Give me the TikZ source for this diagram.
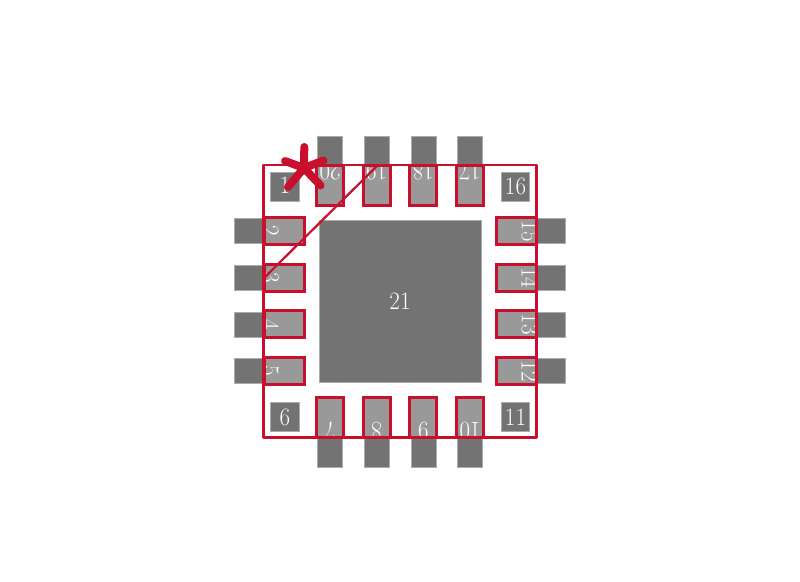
\documentclass[tikz,border=0pt]{standalone}
\definecolor{padred}{RGB}{200,16,46}
\definecolor{darkpad}{RGB}{115,115,115}
\definecolor{lightpad}{RGB}{153,153,153}
\newcommand{\digits}[1]{\scalebox{.92}[1]{\fontsize{25}{25}\selectfont #1}}
\tikzset{
  x=1pt,y=-1pt,
  lightfill/.style={fill=lightpad,draw=none},
  darkfill/.style={fill=darkpad,draw=darkpad!60!white,line width=.5pt},
  redbox/.style={draw=padred,line width=3pt,fill=none},
  redline/.style={draw=padred,line width=2.2pt},
  pinlabel/.style={text=white,inner sep=0pt,font=\normalfont},
}
\begin{document}
\begin{tikzpicture}
\useasboundingbox (0,0) rectangle (800,581);
\fill[white] (0,0) rectangle (800,581);
% light pads
\foreach \c in {330,376.67,423.33,470}{
  \fill[lightfill] (\c-13.5,165) rectangle (\c+13.5,205);
  \fill[lightfill] (\c-13.5,397) rectangle (\c+13.5,437.5);
}
\foreach \c in {231,277.67,324.33,371}{
  \fill[lightfill] (264,\c-13.5) rectangle (304,\c+13.5);
  \fill[lightfill] (496,\c-13.5) rectangle (536,\c+13.5);
}
% solid pads
\fill[darkfill] (319,220.5) rectangle (481,382);
\fill[darkfill] (270.5,172.5) rectangle (299,201);
\fill[darkfill] (501,172.5) rectangle (529.5,201);
\fill[darkfill] (270.5,402.5) rectangle (299,431);
\fill[darkfill] (501,402.5) rectangle (529.5,431);
% labels
\node[pinlabel] (p1) at (285,185.5) {\digits{1}};
\node[pinlabel] (p16) at (515.5,186.5) {\digits{16}};
\node[pinlabel] (p6) at (285,417) {\digits{6}};
\node[pinlabel] (p11) at (515.5,417) {\digits{11}};
\node[pinlabel] (p21) at (400,301.5) {\digits{21}};
\node[pinlabel,rotate=-90] (p2) at (270.5,231) {\digits{2}};
\node[pinlabel,rotate=-90] (p3) at (270.5,277.67) {\digits{3}};
\node[pinlabel,rotate=-90] (p4) at (270.5,324.33) {\digits{4}};
\node[pinlabel,rotate=-90] (p5) at (270.5,371) {\digits{5}};
\node[pinlabel,rotate=-90] (p15) at (530,231) {\digits{15}};
\node[pinlabel,rotate=-90] (p14) at (530,277.67) {\digits{14}};
\node[pinlabel,rotate=-90] (p13) at (530,324.33) {\digits{13}};
\node[pinlabel,rotate=-90] (p12) at (530,371) {\digits{12}};
\node[pinlabel,rotate=180] (p20) at (330,172) {\digits{20}};
\node[pinlabel,rotate=180] (p19) at (376.67,172) {\digits{19}};
\node[pinlabel,rotate=180] (p18) at (423.33,172) {\digits{18}};
\node[pinlabel,rotate=180] (p17) at (470,172) {\digits{17}};
\node[pinlabel,rotate=180] (p7) at (330,431) {\digits{7}};
\node[pinlabel,rotate=180] (p8) at (376.67,431) {\digits{8}};
\node[pinlabel,rotate=180] (p9) at (423.33,431) {\digits{9}};
\node[pinlabel,rotate=180] (p10) at (470,431) {\digits{10}};
% outer dark pads, covering the label ends
\foreach \c in {330,376.67,423.33,470}{
  \fill[darkfill] (\c-12.5,136) rectangle (\c+12.5,165);
  \fill[darkfill] (\c-12.5,437.5) rectangle (\c+12.5,467);
}
\foreach \c in {231,277.67,324.33,371}{
  \fill[darkfill] (234.5,\c-12.5) rectangle (264,\c+12.5);
  \fill[darkfill] (536,\c-12.5) rectangle (565.5,\c+12.5);
}
% red outlines
\foreach \c in {330,376.67,423.33,470}{
  \draw[redbox] (\c-13.5,165) rectangle (\c+13.5,205);
  \draw[redbox] (\c-13.5,397.5) rectangle (\c+13.5,437.5);
}
\foreach \c in {231,277.67,324.33,371}{
  \draw[redbox] (264,\c-13.5) rectangle (304,\c+13.5);
  \draw[redbox] (496,\c-13.5) rectangle (536,\c+13.5);
}
\draw[redline,line join=round] (263.5,165) rectangle (536.5,437.5);
\coordinate (diagA) at (378,165);
\coordinate (diagB) at (264,278);
\draw[redline] (diagA) -- (diagB);
% pin-one star
\coordinate (starC) at (304,168);
\foreach \ex/\ey in {304.3/147,285/161,323.5/160.5,288/187,320.5/185.5}{
  \draw[padred,line width=8pt,line cap=round] (starC) -- (\ex,\ey);
}
\end{tikzpicture}
\end{document}
